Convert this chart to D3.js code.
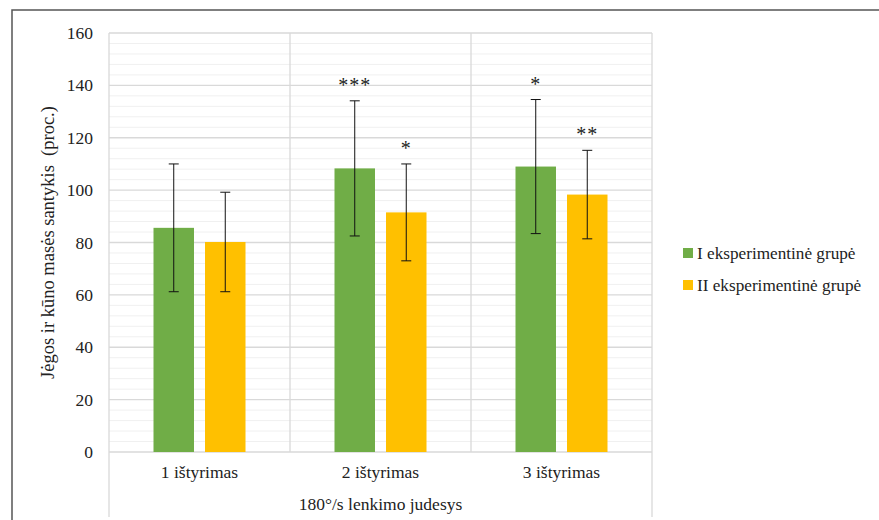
<!DOCTYPE html>
<html>
<head>
<meta charset="utf-8">
<script src="https://cdn.jsdelivr.net/npm/d3@7"></script>
<style>
  body { margin: 0; background: #fff; }
  svg text { fill: #222; }
</style>
</head>
<body>
<div id="canvas"></div>
<script>
"use strict"

// data
let categories = ["1 ištyrimas", "2 ištyrimas", "3 ištyrimas"];
let seriesNames = ["I eksperimentinė grupė", "II eksperimentinė grupė"];
let group1Values = [85.6, 108.3, 109.0];
let group2Values = [80.2, 91.5, 98.3];
let group1Sd = [24.4, 25.8, 25.6];
let group2Sd = [19.0, 18.5, 16.9];
let group1Marks = ["", "***", "*"];
let group2Marks = ["", "*", "**"];
let yTicks = [0, 20, 40, 60, 80, 100, 120, 140, 160];
let seriesColors = ["#70AD47", "#FFC000"];

let serif = "'Liberation Serif', 'Times New Roman', 'DejaVu Serif', serif";

let drawing = d3.select("#canvas")
    .append("svg")
    .attr("width", 879)
    .attr("height", 520)
    .attr("font-family", serif);

// outer frame (only top and left edges show)
drawing.append("path")
    .attr("d", "M12,520 L12,10 L879,10")
    .attr("fill", "none")
    .attr("stroke", "#555")
    .attr("stroke-width", 1.5);

let plotLeft = 109, plotRight = 652, plotTop = 33, plotBottom = 452;

let x = d3.scaleBand()
    .domain(categories)
    .range([plotLeft, plotRight]);

let xInner = d3.scaleBand()
    .domain(seriesNames)
    .range([x.bandwidth() / 2 - 46, x.bandwidth() / 2 + 46])
    .paddingInner(0.214);

let y = d3.scaleLinear()
    .domain([0, 160])
    .range([plotBottom, plotTop]);

// minor gridlines every 4
let minor = d3.range(0, 161, 4).filter(d => d % 20 !== 0);
drawing.append("g").selectAll("line")
    .data(minor)
    .join("line")
    .attr("x1", plotLeft).attr("x2", plotRight)
    .attr("y1", d => y(d)).attr("y2", d => y(d))
    .attr("stroke", "#f0f0f0")
    .attr("stroke-width", 1);

// major gridlines
drawing.append("g").selectAll("line")
    .data(yTicks)
    .join("line")
    .attr("x1", plotLeft).attr("x2", plotRight)
    .attr("y1", d => y(d)).attr("y2", d => y(d))
    .attr("stroke", "#d9d9d9")
    .attr("stroke-width", 1.3);

// category separators
drawing.append("g").selectAll("line")
    .data(categories.slice(1))
    .join("line")
    .attr("x1", d => x(d)).attr("x2", d => x(d))
    .attr("y1", plotTop).attr("y2", plotBottom)
    .attr("stroke", "#d9d9d9")
    .attr("stroke-width", 1.3);

// left and right edges run down through the label rows
drawing.append("g").selectAll("line")
    .data([plotLeft, plotRight])
    .join("line")
    .attr("x1", d => d).attr("x2", d => d)
    .attr("y1", plotTop).attr("y2", 517)
    .attr("stroke", "#d9d9d9")
    .attr("stroke-width", 1.3);

// y axis labels
let yAxis = drawing.append("g")
    .attr("transform", "translate(" + (plotLeft - 16) + ",0)")
    .call(d3.axisLeft(y).tickValues(yTicks).tickSize(0).tickPadding(0));
yAxis.attr("font-family", serif).attr("font-size", 17.5);
yAxis.select(".domain").remove();
yAxis.selectAll("text")
    .attr("fill", "#222");

// bars
let rows = [];
categories.forEach((c, i) => {
    rows.push({ cat: c, s: seriesNames[0], v: group1Values[i], sd: group1Sd[i], mark: group1Marks[i], color: seriesColors[0] });
    rows.push({ cat: c, s: seriesNames[1], v: group2Values[i], sd: group2Sd[i], mark: group2Marks[i], color: seriesColors[1] });
});

drawing.append("g").selectAll("rect")
    .data(rows)
    .join("rect")
    .attr("x", d => x(d.cat) + xInner(d.s))
    .attr("y", d => y(d.v))
    .attr("width", xInner.bandwidth())
    .attr("height", d => y(0) - y(d.v))
    .attr("fill", d => d.color);

// error bars
let err = drawing.append("g")
    .attr("stroke", "#111")
    .attr("stroke-width", 1);
rows.forEach(d => {
    let cx = x(d.cat) + xInner(d.s) + xInner.bandwidth() / 2;
    err.append("line")
        .attr("x1", cx).attr("x2", cx)
        .attr("y1", y(d.v + d.sd)).attr("y2", y(d.v - d.sd));
    err.append("line")
        .attr("x1", cx - 5).attr("x2", cx + 5)
        .attr("y1", y(d.v + d.sd)).attr("y2", y(d.v + d.sd));
    err.append("line")
        .attr("x1", cx - 5).attr("x2", cx + 5)
        .attr("y1", y(d.v - d.sd)).attr("y2", y(d.v - d.sd));
});

// significance stars
drawing.append("g").selectAll("text")
    .data(rows.filter(d => d.mark !== ""))
    .join("text")
    .attr("x", d => x(d.cat) + xInner(d.s) + xInner.bandwidth() / 2)
    .attr("y", d => y(d.v + d.sd) - 9)
    .attr("text-anchor", "middle")
    .attr("font-size", 20)
    .attr("letter-spacing", 1)
    .text(d => d.mark);

// category labels
drawing.append("g").selectAll("text")
    .data(categories)
    .join("text")
    .attr("x", d => x(d) + x.bandwidth() / 2)
    .attr("y", 478)
    .attr("text-anchor", "middle")
    .attr("font-size", 17.5)
    .text(d => d);

// x axis title
drawing.append("text")
    .attr("x", (plotLeft + plotRight) / 2)
    .attr("y", 510)
    .attr("text-anchor", "middle")
    .attr("font-size", 17.5)
    .text("180°/s lenkimo judesys");

// y axis title
drawing.append("text")
    .attr("transform", "translate(54," + (plotTop + plotBottom) / 2 + ") rotate(-90)")
    .attr("text-anchor", "middle")
    .attr("font-size", 18.5)
    .attr("xml:space", "preserve")
    .text("Jėgos ir kūno masės santykis  (proc.)");

// legend
let legend = drawing.append("g").selectAll("g")
    .data(seriesNames)
    .join("g")
    .attr("transform", (d, i) => "translate(683," + (248 + i * 32) + ")");
legend.append("rect")
    .attr("width", 10)
    .attr("height", 10)
    .attr("fill", (d, i) => seriesColors[i]);
legend.append("text")
    .attr("x", 14)
    .attr("y", 10.5)
    .attr("font-size", 17.2)
    .text(d => d);
</script>
</body>
</html>
